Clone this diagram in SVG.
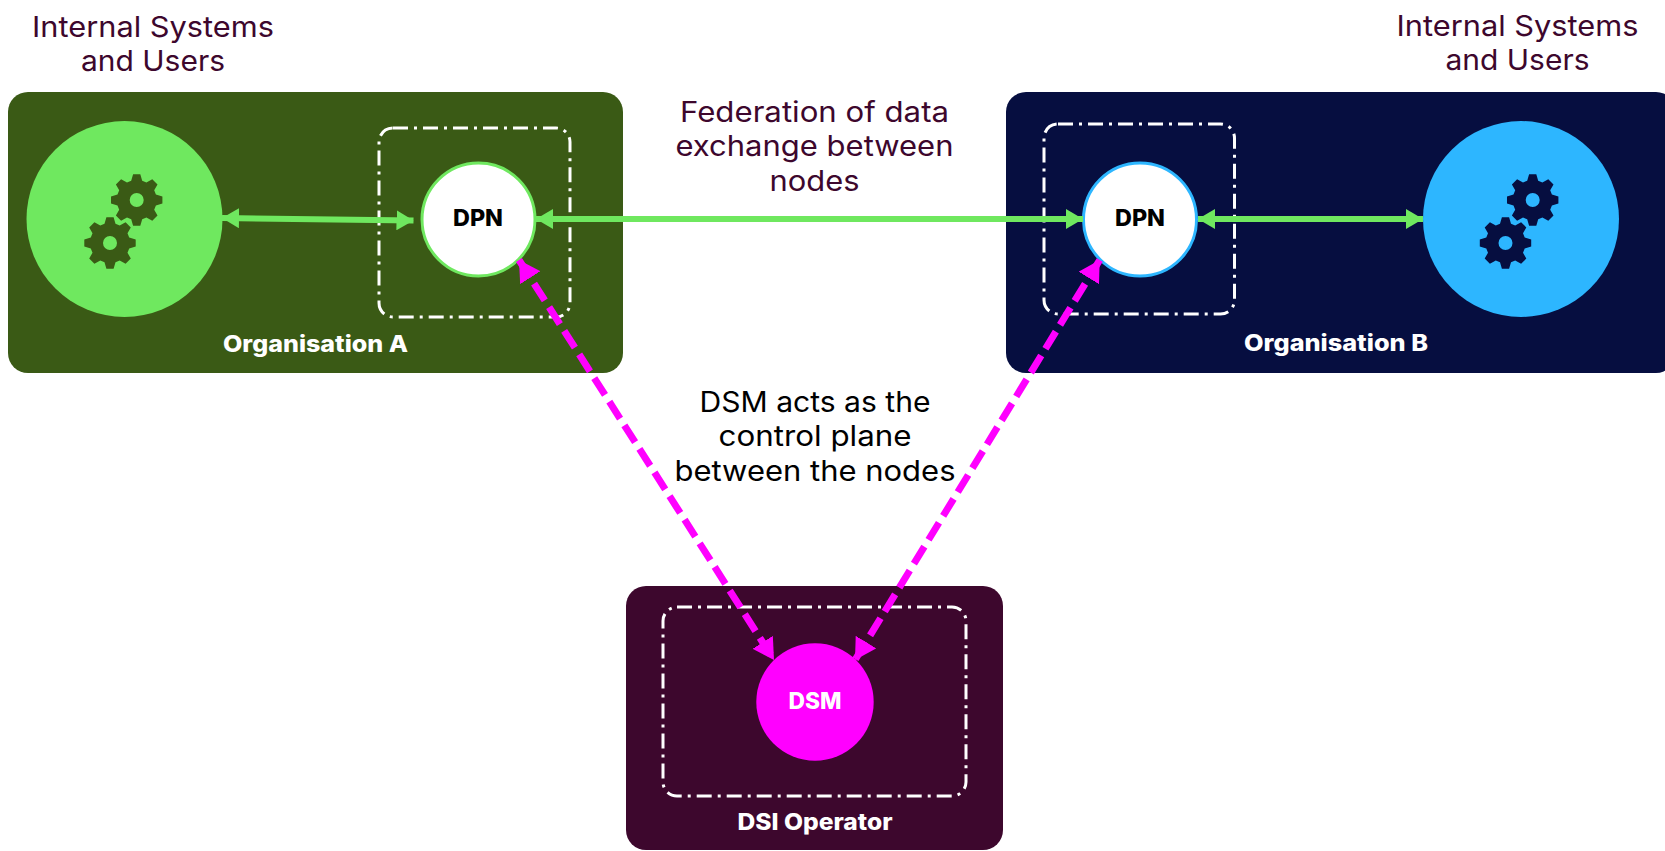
<svg xmlns="http://www.w3.org/2000/svg" xmlns:xlink="http://www.w3.org/1999/xlink" width="1665" height="851" viewBox="0 0 1665 851">
<style>
text{font-family:Inter,"Open Sans","Liberation Sans",sans-serif;text-anchor:middle}
.lab{font-size:28.500px;font-weight:400}
.plum{fill:#3D072D}
.blk{fill:#000}
.org{font-size:22.500px;font-weight:800;fill:#fff}
.node{font-size:22.500px;font-weight:800}
.box{fill:none;stroke:#fff;stroke-width:3;stroke-dasharray:15 6 3 6}
.g{stroke:#6FE85F;stroke-width:6;fill:none;marker-start:url(#gs);marker-end:url(#ge)}
.m{stroke:#FF00FF;stroke-width:7;fill:none;stroke-dasharray:20 8;marker-start:url(#ms);marker-end:url(#me)}
.gear{fill-rule:evenodd;stroke-width:3;paint-order:stroke}
</style>
<defs>
<path id="gear" d="M19.2-5.5 25.7-3.6 25.7 3.6 19.2 5.5 17.5 9.7 20.8 15.6 15.6 20.8 9.7 17.5 5.5 19.2 3.6 25.7-3.6 25.7-5.5 19.2-9.7 17.5-15.6 20.8-20.8 15.6-17.5 9.7-19.2 5.5-25.7 3.6-25.7-3.6-19.2-5.5-17.5-9.7-20.8-15.6-15.6-20.8-9.7-17.5-5.5-19.2-3.6-25.7 3.6-25.7 5.5-19.2 9.7-17.5 15.6-20.8 20.8-15.6 17.5-9.7ZM7 0A7 7 0 1 0-7 0 7 7 0 1 0 7 0Z"/>
<marker id="ge" markerUnits="userSpaceOnUse" markerWidth="18" markerHeight="20" refX="17" refY="10" orient="auto"><path d="M0 0 17 10 0 20Z" fill="#6FE85F"/></marker>
<marker id="gs" markerUnits="userSpaceOnUse" markerWidth="18" markerHeight="20" refX="1" refY="10" orient="auto"><path d="M18 0 1 10 18 20Z" fill="#6FE85F"/></marker>
<marker id="me" markerUnits="userSpaceOnUse" markerWidth="22" markerHeight="24" refX="21" refY="12" orient="auto"><path d="M0 0 21 12 0 24Z" fill="#FF00FF"/></marker>
<marker id="ms" markerUnits="userSpaceOnUse" markerWidth="22" markerHeight="24" refX="1" refY="12" orient="auto"><path d="M22 0 1 12 22 24Z" fill="#FF00FF"/></marker>
</defs>
<rect width="1665" height="851" fill="#fff"/>
<g id="organisation-a">
<rect x="8" y="92" width="615" height="281" rx="20" fill="#3A5A15"/>
<text class="org" x="315.500" y="352" textLength="185" lengthAdjust="spacingAndGlyphs">Organisation A</text>
</g>
<g id="organisation-b">
<rect x="1006" y="92" width="670" height="281" rx="20" fill="#060E40"/>
<text class="org" x="1336" y="351" textLength="184" lengthAdjust="spacingAndGlyphs">Organisation B</text>
</g>
<g id="dsi-operator">
<rect x="626" y="586" width="377" height="264" rx="20" fill="#3D072D"/>
<text class="org" x="815" y="830" textLength="155" lengthAdjust="spacingAndGlyphs">DSI Operator</text>
</g>
<g id="internal-a">
<circle cx="124.500" cy="219" r="98" fill="#6FE85F"/>
<use xlink:href="#gear" href="#gear" x="136.700" y="200" class="gear" fill="#3A5A15"/>
<use xlink:href="#gear" href="#gear" x="110" y="243" class="gear" fill="#3A5A15" stroke="#6FE85F"/>
</g>
<g id="internal-b">
<circle cx="1521" cy="219" r="98" fill="#2DB6FF"/>
<use xlink:href="#gear" href="#gear" x="1532.700" y="200" class="gear" fill="#060E40"/>
<use xlink:href="#gear" href="#gear" x="1505.500" y="243" class="gear" fill="#060E40" stroke="#2DB6FF"/>
</g>
<g id="dpn-a-box"><rect class="box" x="379" y="128" width="191" height="189" rx="14"/></g>
<g id="dpn-b-box"><rect class="box" x="1044" y="124" width="190.500" height="190" rx="14"/></g>
<g id="dsm-box"><rect class="box" x="663" y="607" width="303" height="189" rx="14"/></g>
<g id="dpn-a">
<circle cx="478.500" cy="219.500" r="56.500" fill="#fff" stroke="#6FE85F" stroke-width="3"/>
<text class="node blk" x="478" y="226" textLength="50" lengthAdjust="spacingAndGlyphs">DPN</text>
</g>
<g id="dpn-b">
<circle cx="1140" cy="219.500" r="56.500" fill="#fff" stroke="#2DB6FF" stroke-width="3"/>
<text class="node blk" x="1140" y="226" textLength="50" lengthAdjust="spacingAndGlyphs">DPN</text>
</g>
<g id="dsm">
<circle cx="815" cy="702" r="58.700" fill="#FF00FF"/>
<text class="node" fill="#fff" x="815" y="709" textLength="53" lengthAdjust="spacingAndGlyphs">DSM</text>
</g>
<g id="connectors">
<line class="g" x1="222" y1="218" x2="413.500" y2="220.500"/>
<line class="g" x1="536" y1="219" x2="1083" y2="219"/>
<line class="g" x1="1198" y1="219" x2="1423" y2="219"/>
<line class="m" x1="519" y1="260" x2="774" y2="660"/>
<line class="m" x1="1099.700" y1="260" x2="855" y2="660"/>
</g>
<g id="labels">
<text class="lab plum" x="153" y="37" textLength="242" lengthAdjust="spacingAndGlyphs">Internal Systems</text>
<text class="lab plum" x="153" y="71" textLength="144" lengthAdjust="spacingAndGlyphs">and Users</text>
<text class="lab plum" x="1517.500" y="36" textLength="242" lengthAdjust="spacingAndGlyphs">Internal Systems</text>
<text class="lab plum" x="1517.500" y="70" textLength="144" lengthAdjust="spacingAndGlyphs">and Users</text>
<text class="lab plum" x="814.500" y="122" textLength="269" lengthAdjust="spacingAndGlyphs">Federation of data</text>
<text class="lab plum" x="814.500" y="156" textLength="278" lengthAdjust="spacingAndGlyphs">exchange between</text>
<text class="lab plum" x="814.500" y="191" textLength="90" lengthAdjust="spacingAndGlyphs">nodes</text>
<text class="lab blk" x="815" y="412" textLength="231" lengthAdjust="spacingAndGlyphs">DSM acts as the</text>
<text class="lab blk" x="815" y="446" textLength="193" lengthAdjust="spacingAndGlyphs">control plane</text>
<text class="lab blk" x="815" y="481" textLength="281" lengthAdjust="spacingAndGlyphs">between the nodes</text>
</g>
</svg>
